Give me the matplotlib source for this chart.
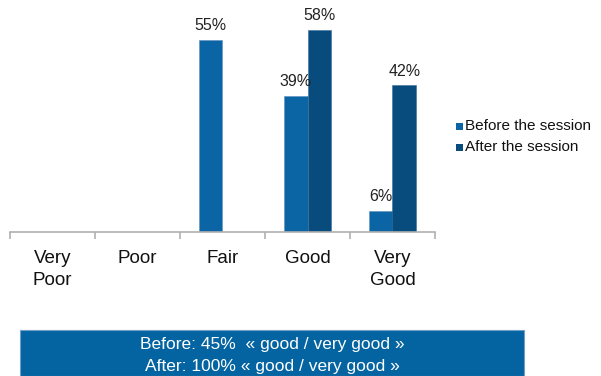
import numpy as np
import matplotlib.pyplot as plt
from matplotlib.patches import Rectangle

plt.rcParams["font.family"] = ["Liberation Sans", "DejaVu Sans"]

categories = ["Very\nPoor", "Poor", "Fair", "Good", "Very\nGood"]
before = [0, 0, 55, 39, 6]
after = [0, 0, 0, 58, 42]
series_names = ["Before the session", "After the session"]
summary_lines = ["Before: 45%  \u00ab good / very good \u00bb",
                 "After: 100% \u00ab good / very good \u00bb"]

c_before = "#0B64A3"
c_after = "#074C7C"

fig = plt.figure(figsize=(6.01, 3.76), dpi=100)
ax = fig.add_axes([10 / 601, 1 - 232 / 376, 425 / 601, 222 / 376])

x = np.arange(len(categories))
w = 0.28
for i in range(len(categories)):
    if before[i] > 0:
        ax.bar(x[i] - w / 2, before[i], w, color=c_before, edgecolor="#5a8fc0", linewidth=0.4)
        ax.text(x[i] - w / 2, before[i] + 1.9, f"{before[i]}%", ha="center", va="bottom",
                fontsize=11.5, color="#222222", clip_on=False)
    if after[i] > 0:
        ax.bar(x[i] + w / 2, after[i], w, color=c_after, edgecolor="#3a6f9a", linewidth=0.4)
        ax.text(x[i] + w / 2, after[i] + 1.9, f"{after[i]}%", ha="center", va="bottom",
                fontsize=11.5, color="#222222", clip_on=False)

ax.set_xlim(-0.5, len(categories) - 0.5)
ax.set_ylim(0, 222 / 3.49)
for s in ["top", "right", "left"]:
    ax.spines[s].set_visible(False)
ax.spines["bottom"].set_color("#b0b0b0")
ax.spines["bottom"].set_linewidth(1.2)
ax.set_yticks([])
ax.set_xticks(x)
ax.set_xticklabels(categories, fontsize=13.5, linespacing=1.35, color="#111111")
ax.tick_params(axis="x", which="major", length=0, pad=13)
ax.set_xticks(np.arange(-0.5, len(categories)), minor=True)
ax.tick_params(axis="x", which="minor", length=5, color="#b0b0b0", width=1.2)

# legend, drawn by hand to match the original placement
for k, (name, col) in enumerate(zip(series_names, [c_before, c_after])):
    yc = 1 - (126 + 21 * k) / 376
    fig.patches.append(Rectangle((456 / 601, yc - 3.5 / 376), 7 / 601, 7 / 376,
                                 transform=fig.transFigure, facecolor=col))
    fig.text(465 / 601, yc, name, ha="left", va="center", fontsize=11, color="#111111")

# summary box
fig.patches.append(Rectangle((20 / 601, 0), 504 / 601, 46 / 376, transform=fig.transFigure,
                             facecolor="#0464A1", edgecolor="#6f9fc8", linewidth=0.8))
fig.text(272 / 601, 1 - 344 / 376, summary_lines[0], ha="center", va="center",
         color="white", fontsize=12.5)
fig.text(272 / 601, 1 - 366 / 376, summary_lines[1], ha="center", va="center",
         color="white", fontsize=12.5)

fig.savefig("out.png", dpi=100)
